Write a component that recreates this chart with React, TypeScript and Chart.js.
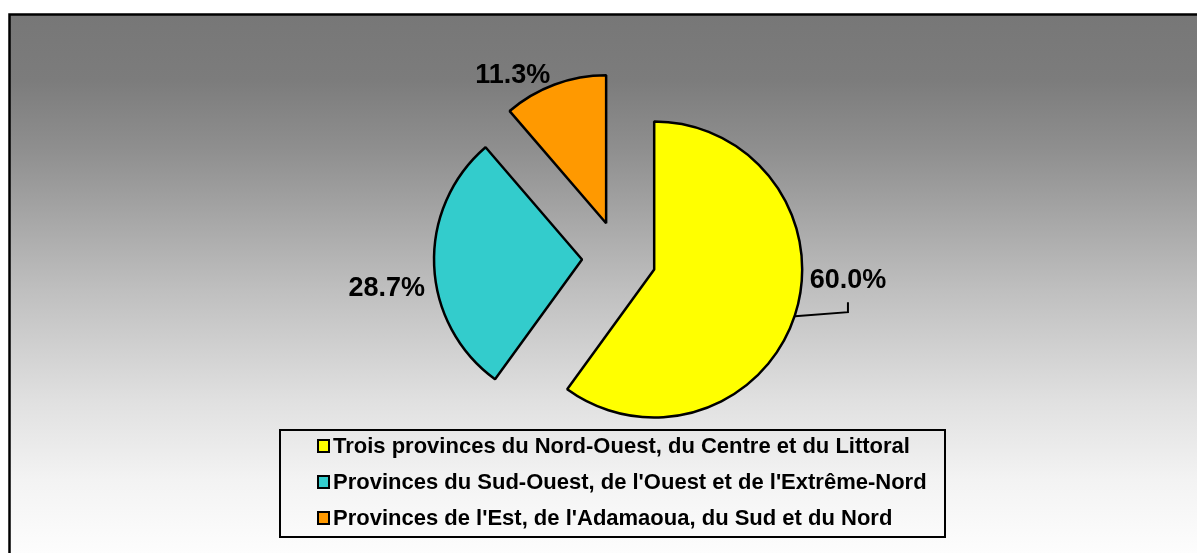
import React, { useEffect, useRef } from 'react';
import { Chart, registerables } from 'chart.js';

Chart.register(...registerables);

const categories = [
  'Trois provinces du Nord-Ouest, du Centre et du Littoral',
  "Provinces du Sud-Ouest, de l'Ouest et de l'Extrême-Nord",
  "Provinces de l'Est, de l'Adamaoua, du Sud et du Nord",
];
const shares = [60.0, 28.7, 11.3];
const shareLabels = ['60.0%', '28.7%', '11.3%'];
const sliceColors = ['#FFFF00', '#33CCCC', '#FF9900'];

const W = 1197;
const H = 553;
const FONT = "'Liberation Sans', Arial, Helvetica, sans-serif";
const EXPLODE = 37;

// label offsets relative to the outer mid-point of each slice
const LABEL_OFFSETS = [
  { dx: 53, dy: -35 },
  { dx: -47.5, dy: 22.5 },
  { dx: -42, dy: -9 },
];

const backgroundPlugin = {
  id: 'bgFrame',
  beforeDraw(chart: any) {
    const ctx = chart.ctx as CanvasRenderingContext2D;
    ctx.save();
    ctx.fillStyle = '#ffffff';
    ctx.fillRect(0, 0, W, H);
    const g = ctx.createLinearGradient(0, 15, 0, H);
    const span = H - 15;
    const stop = (y: number) => Math.min(1, Math.max(0, (y - 15) / span));
    g.addColorStop(0, '#777777');
    g.addColorStop(stop(80), '#7c7c7c');
    g.addColorStop(stop(150), '#8f8f8f');
    g.addColorStop(stop(290), '#bfbfbf');
    g.addColorStop(stop(400), '#e0e0e0');
    g.addColorStop(stop(480), '#f3f3f3');
    g.addColorStop(1, '#fdfdfd');
    ctx.fillStyle = g;
    ctx.fillRect(9, 14, W, H);
    ctx.strokeStyle = '#000000';
    ctx.lineWidth = 2.5;
    ctx.strokeRect(9.5, 14.5, W + 20, H + 20);
    ctx.restore();
  },
};

const explodePlugin = {
  id: 'explode',
  beforeDatasetsDraw(chart: any) {
    const area = chart.chartArea;
    const cx = (area.left + area.right) / 2;
    const cy = (area.top + area.bottom) / 2;
    const meta = chart.getDatasetMeta(0);
    meta.data.forEach((arc: any) => {
      const mid = (arc.startAngle + arc.endAngle) / 2;
      arc.x = cx + Math.cos(mid) * EXPLODE;
      arc.y = cy + Math.sin(mid) * EXPLODE;
    });
  },
};

const labelPlugin = {
  id: 'sliceLabels',
  afterDatasetsDraw(chart: any) {
    const ctx = chart.ctx as CanvasRenderingContext2D;
    const meta = chart.getDatasetMeta(0);
    ctx.save();
    ctx.font = `bold 27px ${FONT}`;
    ctx.fillStyle = '#000000';
    ctx.textAlign = 'center';
    ctx.textBaseline = 'middle';
    meta.data.forEach((arc: any, i: number) => {
      const mid = (arc.startAngle + arc.endAngle) / 2;
      const ex = arc.x + Math.cos(mid) * arc.outerRadius;
      const ey = arc.y + Math.sin(mid) * arc.outerRadius;
      const off = LABEL_OFFSETS[i];
      if (i === 0) {
        ctx.beginPath();
        ctx.strokeStyle = '#000000';
        ctx.lineWidth = 2;
        ctx.moveTo(ex, ey + 1);
        ctx.lineTo(ex + off.dx, ey - 3);
        ctx.lineTo(ex + off.dx, ey - 13);
        ctx.stroke();
      }
      ctx.fillText(shareLabels[i], ex + off.dx, ey + off.dy);
    });
    ctx.restore();
  },
};

const legendPlugin = {
  id: 'boxLegend',
  afterDraw(chart: any) {
    const ctx = chart.ctx as CanvasRenderingContext2D;
    const labels: string[] = chart.data.labels;
    const cols: string[] = chart.data.datasets[0].backgroundColor;
    ctx.save();
    ctx.strokeStyle = '#000000';
    ctx.lineWidth = 2;
    ctx.strokeRect(280, 430, 665, 107);
    ctx.font = `bold 22px ${FONT}`;
    ctx.textAlign = 'left';
    ctx.textBaseline = 'middle';
    labels.forEach((lab, i) => {
      const yc = 446 + i * 36;
      ctx.fillStyle = cols[i];
      ctx.fillRect(318, yc - 6, 11, 12);
      ctx.lineWidth = 2;
      ctx.strokeStyle = '#000000';
      ctx.strokeRect(318, yc - 6, 11, 12);
      ctx.fillStyle = '#000000';
      ctx.fillText(lab, 333, yc + 1);
    });
    ctx.restore();
  },
};

export default function App() {
  const ref = useRef<HTMLCanvasElement | null>(null);

  useEffect(() => {
    if (!ref.current) return;
    const chart = new Chart(ref.current, {
      type: 'pie',
      data: {
        labels: categories,
        datasets: [
          {
            data: shares,
            backgroundColor: sliceColors,
            borderColor: '#000000',
            borderWidth: 2.5,
            radius: 148,
          } as any,
        ],
      },
      options: {
        responsive: false,
        animation: false,
        devicePixelRatio: 1,
        layout: { padding: { left: 41, right: 0, top: 0, bottom: 37 } },
        plugins: {
          legend: { display: false },
          tooltip: { enabled: false },
          title: { display: false },
        },
        events: [],
      },
      plugins: [backgroundPlugin, explodePlugin, labelPlugin, legendPlugin],
    });
    return () => chart.destroy();
  }, []);

  return (
    <div style={{ position: 'absolute', left: 0, top: 0, width: W, height: H }}>
      <canvas ref={ref} width={W} height={H} style={{ width: W, height: H, display: 'block' }} />
    </div>
  );
}
